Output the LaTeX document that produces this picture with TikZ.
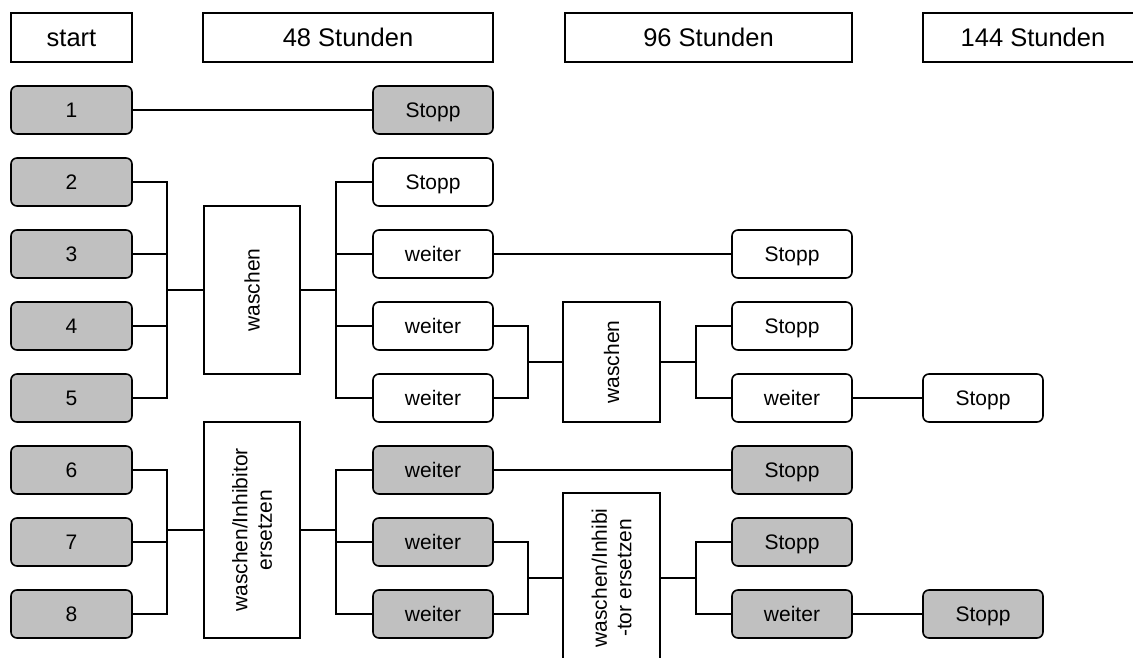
\documentclass[tikz,border=0pt]{standalone}
\usepackage{fontspec}
\setmainfont{Liberation Sans}
\definecolor{boxgray}{HTML}{C0C0C0}
\begin{document}
\begin{tikzpicture}[x=1pt,y=-1pt,
  every node/.style={inner sep=0pt,outer sep=0pt,line width=1.6pt},
  hdr/.style={draw,rectangle,minimum height=49pt,text height=18.3pt,text depth=0pt,font=\fontsize{25.5}{29}\selectfont},
  rbox/.style={draw,rectangle,rounded corners=6pt,minimum width=120pt,minimum height=48pt,fill=white,text height=15pt,text depth=0pt,font=\fontsize{21}{24}\selectfont},
  gbox/.style={rbox,fill=boxgray},
  sq/.style={draw,rectangle,fill=white},
  vlab/.style={rotate=90,align=center,font=\fontsize{21}{24.5}\selectfont},
  conn/.style={line width=1.5pt}]
\clip (0,0) rectangle (1133,657);
\fill[white] (0,0) rectangle (1133,657);
% headers
\node[hdr,minimum width=121pt] (hstart) at (71.5,37.5) {start};
\node[hdr,minimum width=290pt] (h48) at (348,37.5) {48 Stunden};
\node[hdr,minimum width=287pt] (h96) at (708.5,37.5) {96 Stunden};
\node[hdr,minimum width=220pt] (h144) at (1033,37.5) {144 Stunden};
% start column
\node[gbox,minimum width=121pt] (n1) at (71.5,110) {1};
\node[gbox,minimum width=121pt] (n2) at (71.5,182) {2};
\node[gbox,minimum width=121pt] (n3) at (71.5,254) {3};
\node[gbox,minimum width=121pt] (n4) at (71.5,326) {4};
\node[gbox,minimum width=121pt] (n5) at (71.5,398) {5};
\node[gbox,minimum width=121pt] (n6) at (71.5,470) {6};
\node[gbox,minimum width=121pt] (n7) at (71.5,542) {7};
\node[gbox,minimum width=121pt] (n8) at (71.5,614) {8};
% 48h column
\node[gbox] (b1) at (433,110) {Stopp};
\node[rbox] (b2) at (433,182) {Stopp};
\node[rbox] (b3) at (433,254) {weiter};
\node[rbox] (b4) at (433,326) {weiter};
\node[rbox] (b5) at (433,398) {weiter};
\node[gbox] (b6) at (433,470) {weiter};
\node[gbox] (b7) at (433,542) {weiter};
\node[gbox] (b8) at (433,614) {weiter};
% wash boxes
\node[sq,minimum width=96pt,minimum height=168pt] (w1) at (252,290) {};
\node[vlab] (w1t) at (w1) {waschen};
\node[sq,minimum width=96pt,minimum height=216pt] (w2) at (252,530) {};
\node[vlab] (w2t) at (w2) {waschen/Inhibitor\\ersetzen};
\node[sq,minimum width=97pt,minimum height=120pt] (w3) at (611.5,362) {};
\node[vlab] (w3t) at (w3) {waschen};
\node[sq,minimum width=97pt,minimum height=170pt] (w4) at (611.5,578) {};
\node[vlab] (w4t) at (w4) {waschen/Inhibi\\-tor ersetzen};
% 96h column
\node[rbox] (d3) at (792,254) {Stopp};
\node[rbox] (d4) at (792,326) {Stopp};
\node[rbox] (d5) at (792,398) {weiter};
\node[gbox] (d6) at (792,470) {Stopp};
\node[gbox] (d7) at (792,542) {Stopp};
\node[gbox] (d8) at (792,614) {weiter};
% 144h column
\node[rbox] (e5) at (983,398) {Stopp};
\node[gbox] (e8) at (983,614) {Stopp};
% junctions
\coordinate (j1) at (167,290);
\coordinate (j2) at (336,290);
\coordinate (j3) at (167,530);
\coordinate (j4) at (336,530);
\coordinate (j5) at (528,362);
\coordinate (j6) at (696,362);
\coordinate (j7) at (528,578);
\coordinate (j8) at (696,578);
% connectors
\draw[conn] (n1.east) -- (b1.west);
\draw[conn] (n2.east) -| (j1) |- (n5.east);
\draw[conn] (n3.east) -- (n3.east -| j1);
\draw[conn] (n4.east) -- (n4.east -| j1);
\draw[conn] (j1) -- (w1.west);
\draw[conn] (w1.east) -- (j2);
\draw[conn] (b2.west) -| (j2) |- (b5.west);
\draw[conn] (b3.west) -- (b3.west -| j2);
\draw[conn] (b4.west) -- (b4.west -| j2);
\draw[conn] (n6.east) -| (j3) |- (n8.east);
\draw[conn] (n7.east) -- (n7.east -| j3);
\draw[conn] (j3) -- (w2.west);
\draw[conn] (w2.east) -- (j4);
\draw[conn] (b6.west) -| (j4) |- (b8.west);
\draw[conn] (b7.west) -- (b7.west -| j4);
\draw[conn] (b3.east) -- (d3.west);
\draw[conn] (b6.east) -- (d6.west);
\draw[conn] (b4.east) -| (j5) |- (b5.east);
\draw[conn] (j5) -- (w3.west);
\draw[conn] (w3.east) -- (j6);
\draw[conn] (d4.west) -| (j6) |- (d5.west);
\draw[conn] (b7.east) -| (j7) |- (b8.east);
\draw[conn] (j7) -- (w4.west);
\draw[conn] (w4.east) -- (j8);
\draw[conn] (d7.west) -| (j8) |- (d8.west);
\draw[conn] (d5.east) -- (e5.west);
\draw[conn] (d8.east) -- (e8.west);
\end{tikzpicture}
\end{document}
